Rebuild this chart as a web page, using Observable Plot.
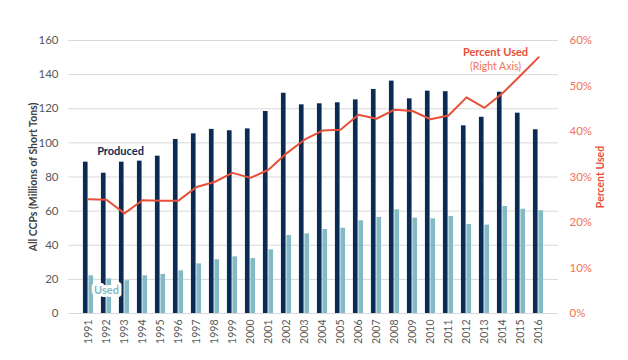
<!DOCTYPE html>
<html>
<head>
<meta charset="utf-8">
<script src="https://cdn.jsdelivr.net/npm/d3@7"></script>
<script src="https://cdn.jsdelivr.net/npm/@observablehq/plot@0.6"></script>
<style>
  html, body { margin: 0; padding: 0; background: #fff; }
  #chart svg { display: block; }
</style>
</head>
<body>
<div id="chart"></div>
<script>
const years = ["1991","1992","1993","1994","1995","1996","1997","1998","1999","2000","2001","2002","2003","2004","2005","2006","2007","2008","2009","2010","2011","2012","2013","2014","2015","2016"];
const produced = [88.7, 82.2, 88.7, 89.3, 92.2, 102, 105.3, 107.9, 107.1, 108.2, 118.4, 129.1, 122.3, 122.9, 123.5, 125.2, 131.3, 136.2, 125.8, 130.3, 130, 110, 115, 129.7, 117.4, 107.7];
const used = [22.1, 20.3, 19.2, 22.1, 22.9, 25, 29.1, 31.5, 33.2, 32.2, 37.3, 45.7, 46.7, 49.2, 50, 54.3, 56.3, 60.8, 55.9, 55.5, 56.9, 52.2, 51.8, 62.7, 61.1, 60.2];
const pctUsed = [25.1, 25, 22, 24.9, 24.8, 24.8, 27.8, 28.9, 30.9, 29.8, 31.6, 35.2, 38.2, 40.2, 40.4, 43.7, 42.8, 44.8, 44.5, 42.7, 43.5, 47.5, 45.2, 48.4, 52.3, 56.3];
const leftTicks = [0, 20, 40, 60, 80, 100, 120, 140, 160];
const rightTicks = [0, 10, 20, 30, 40, 50, 60];

const leftMax = 160, rightMax = 60;
const toLeft = p => p * leftMax / rightMax;

const data = years.map((y, i) => ({year: y, produced: produced[i], used: used[i], pct: pctUsed[i]}));

const navy = "#0b2b55", teal = "#83bac6", red = "#e8503a", salmon = "#f0735a";
const half = 18.85 / 2, barW = 5.5;

const chart = Plot.plot({
  width: 628,
  height: 360,
  marginLeft: 68,
  marginRight: 70,
  marginTop: 40,
  marginBottom: 47,
  style: {fontFamily: "Lato, 'Open Sans', sans-serif", fontSize: "11px", background: "#fff"},
  x: {type: "band", domain: years, padding: 0, label: null},
  y: {domain: [0, leftMax], label: null},
  marks: [
    Plot.gridY(leftTicks, {stroke: "#d9d9d9", strokeOpacity: 1}),
    Plot.barY(data, {x: "year", y: "produced", fill: navy, insetLeft: half - barW, insetRight: half}),
    Plot.barY(data, {x: "year", y: "used", fill: teal, insetLeft: half, insetRight: half - barW}),
    Plot.lineY(data, {x: "year", y: d => toLeft(d.pct), stroke: red, strokeWidth: 2}),
    Plot.axisY({ticks: leftTicks, tickSize: 0, tickPadding: 10, label: null, fill: "#595959", fontSize: 11.5}),
    Plot.axisY({anchor: "right", ticks: rightTicks.map(toLeft), tickFormat: d => Math.round(d * rightMax / leftMax) + "%", tickSize: 0, tickPadding: 11, label: null, fill: salmon, fontSize: 11.5}),
    Plot.axisX({tickRotate: -90, tickSize: 0, tickPadding: 6, label: null, fill: "#595959", fontSize: 10.5}),
    Plot.text(["All CCPs (Millions of Short Tons)"], {frameAnchor: "left", textAnchor: "middle", dx: -35, rotate: -90, fill: "#404040", fontWeight: "bold", fontSize: 10.5}),
    Plot.text(["Percent Used"], {frameAnchor: "right", textAnchor: "middle", dx: 42, rotate: -90, fill: red, fontWeight: "bold", fontSize: 10.5}),
    Plot.text([{year: "1993", v: 95, t: "Produced"}], {x: "year", y: "v", text: "t", dx: -4, fill: navy, fontWeight: "bold", fontSize: 11}),
    Plot.text([{year: "1992", v: 13.5, t: "Used"}], {x: "year", y: "v", text: "t", fill: teal, stroke: "white", strokeWidth: 6, fontWeight: "bold", fontSize: 11}),
    Plot.text([{year: "2013", v: 153, t: "Percent Used"}], {x: "year", y: "v", text: "t", dx: 11, fill: red, fontWeight: "bold", fontSize: 11}),
    Plot.text([{year: "2013", v: 144.8, t: "(Right Axis)"}], {x: "year", y: "v", text: "t", dx: 11, fill: salmon, fontSize: 10.5})
  ]
});
document.getElementById("chart").appendChild(chart);
</script>
</body>
</html>
